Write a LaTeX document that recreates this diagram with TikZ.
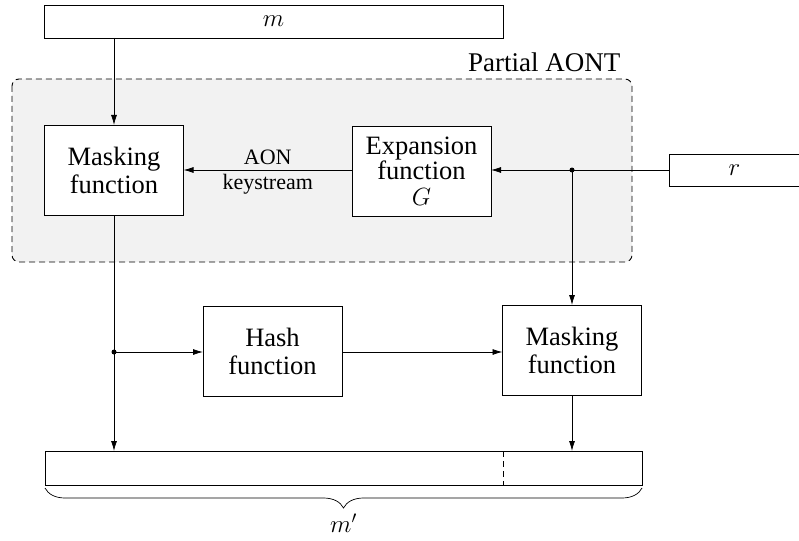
\documentclass[tikz,border=0pt]{standalone}
\usepackage{fontspec}
\setmainfont{Liberation Serif}
\usetikzlibrary{arrows.meta,decorations.pathreplacing}

\tikzset{
	fbox/.style={draw,fill=white,align=center,inner sep=0,outer sep=0,minimum width=139pt,minimum height=90pt,font=\fontsize{26.5}{28}\selectfont},
	bar/.style={draw,fill=white,inner sep=0,outer sep=0,font=\fontsize{26}{28}\selectfont},
	arr/.style={-{Latex[length=10pt,width=6pt]}},
	dot/.style={circle,fill=black,inner sep=0,outer sep=0,minimum size=5pt},
}

\begin{document}
\begin{tikzpicture}[x=1pt,y=-1pt,line width=0.8pt]
	\useasboundingbox (0,0) rectangle (799,540);
	\draw[line width=0.9pt,dash pattern=on 6pt off 4pt,rounded corners=7pt,fill=black!5] (12,79) rectangle (632,262);
	\node[anchor=base east,font=\fontsize{27}{28}\selectfont] (aont) at (624,72) {Partial AONT};
	\node[bar,minimum width=459pt,minimum height=33pt] (m) at (273.5,21.5) {$m$};
	\node[bar,minimum width=131pt,minimum height=32pt] (r) at (734.5,170) {$r$};
	\node[fbox] (mask1) at (114,170) {Masking\\function};
	\node[fbox,font=\fontsize{26.5}{25.5}\selectfont] (exp) at (421.5,171) {Expansion\\function\\$G$};
	\node[fbox] (hash) at (272.5,351.5) {Hash\\function};
	\node[fbox] (mask2) at (572,350) {Masking\\function};
	\node[bar,minimum width=597pt,minimum height=34pt] (out) at (343.5,468) {};
	\node[dot] (d1) at (572,170) {};
	\node[dot] (d2) at (114,352) {};
	\draw[arr] (m.south -| mask1) -- (mask1.north);
	\draw (r.west) -- (d1.center);
	\draw[arr] (d1.center) -- (exp.east |- d1);
	\draw[arr] (d1.center) -- (mask2.north -| d1);
	\draw[arr] (exp.west |- d1) -- (mask1.east |- d1)
		node[midway,above=2pt,font=\fontsize{22}{24}\selectfont] {AON}
		node[midway,below=1pt,font=\fontsize{22}{24}\selectfont] {keystream};
	\draw (mask1.south) -- (d2.center);
	\draw[arr] (d2.center) -- (out.north -| d2);
	\draw[arr] (d2.center) -- (hash.west |- d2);
	\draw[arr] (hash.east |- d2) -- (mask2.west |- d2);
	\draw[arr] (mask2.south) -- (out.north -| mask2);
	\draw[dash pattern=on 6pt off 4pt] (out.north -| 503,0) -- (out.south -| 503,0);
	\draw[line width=0.7pt,decorate,decoration={brace,mirror,amplitude=20pt}] ([yshift=-3pt]out.south west) -- ([yshift=-3pt]out.south east)
		node[midway,below=22pt,font=\fontsize{26}{28}\selectfont] (mp) {$m'$};
\end{tikzpicture}
\end{document}
